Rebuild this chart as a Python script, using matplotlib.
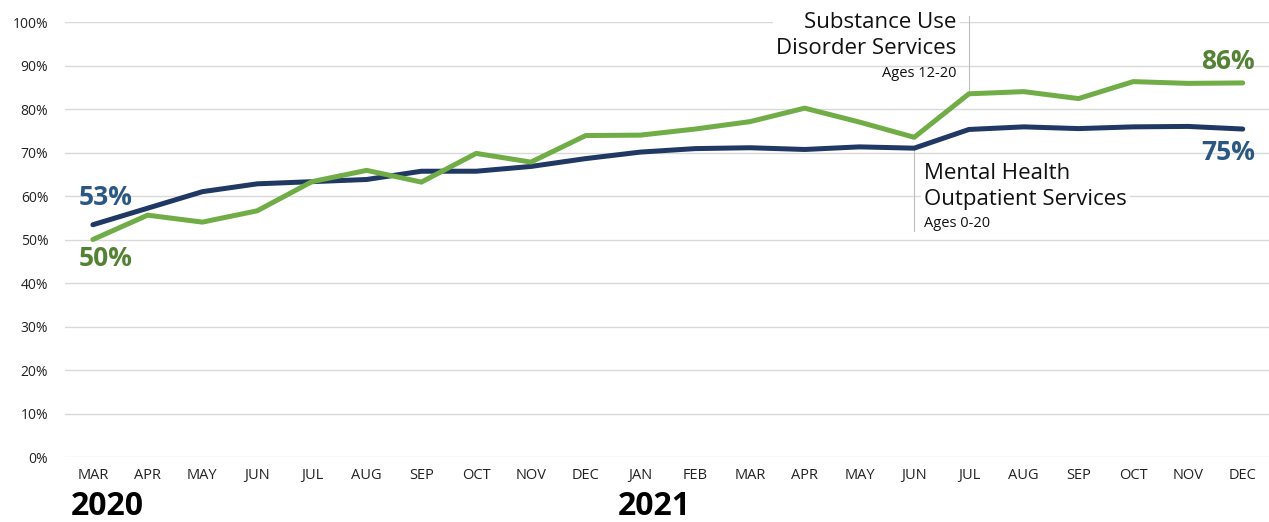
import matplotlib.pyplot as plt
from matplotlib.ticker import FuncFormatter

# Fonts - closest installed match to the original
plt.rcParams['font.family'] = ['Open Sans', 'DejaVu Sans']

# Data
months = ["MAR", "APR", "MAY", "JUN", "JUL", "AUG", "SEP", "OCT", "NOV", "DEC",
          "JAN", "FEB", "MAR", "APR", "MAY", "JUN", "JUL", "AUG", "SEP", "OCT", "NOV", "DEC"]
years = ["2020", "2021"]
year_start_idx = [0, 10]
mental_health = [53.4, 57.2, 61.0, 62.8, 63.3, 63.8, 65.7, 65.7, 66.8, 68.6,
                 70.1, 70.9, 71.1, 70.7, 71.3, 71.0, 75.3, 75.9, 75.5, 75.9, 76.0, 75.4]
substance_use = [50.0, 55.6, 54.0, 56.6, 63.3, 65.9, 63.2, 69.8, 67.8, 73.9,
                 74.0, 75.4, 77.1, 80.2, 77.0, 73.5, 83.5, 84.0, 82.4, 86.3, 85.9, 86.0]

NAVY = "#1f3864"
NAVY_TXT = "#2b5783"
GREEN = "#70ad47"
GREEN_TXT = "#548235"

fig = plt.figure(figsize=(12.69, 5.22), dpi=100)
ax = fig.add_axes([0.0512, 0.1245, 0.9488, 0.8333])

x = list(range(len(months)))
ax.plot(x, mental_health, color=NAVY, lw=3.6, solid_capstyle="round", zorder=4)
ax.plot(x, substance_use, color=GREEN, lw=3.6, solid_capstyle="round", zorder=4)

ax.set_xlim(-0.51, 21.48)
ax.set_ylim(0, 100)
ax.set_yticks(range(0, 101, 10))
ax.yaxis.set_major_formatter(FuncFormatter(lambda v, p: f"{int(v)}%"))
ax.grid(axis="y", color="#d9d9d9", lw=1, zorder=0)
ax.set_axisbelow(True)
for s in ax.spines.values():
    s.set_visible(False)
ax.tick_params(axis="both", length=0, labelsize=10, colors="#222222")
ax.tick_params(axis="y", pad=12)
ax.set_xticks(x)
ax.set_xticklabels(months, fontsize=10.5)
ax.tick_params(axis="x", pad=8)

# year labels under the months
for yr, i in zip(years, year_start_idx):
    ax.annotate(yr, xy=(i, 0), xycoords=("data", "axes fraction"),
                xytext=(-16, -24), textcoords="offset points",
                ha="left", va="top", fontsize=23, fontweight="bold", color="black",
                annotation_clip=False)

# start / end values
ax.annotate(f"{mental_health[0]:.0f}%", xy=(0, mental_health[0]), xytext=(-10, 10),
            textcoords="offset points", ha="left", va="bottom",
            fontsize=19, fontweight="bold", color=NAVY_TXT)
ax.annotate(f"{substance_use[0]:.0f}%", xy=(0, substance_use[0]), xytext=(-10, -4),
            textcoords="offset points", ha="left", va="top",
            fontsize=19, fontweight="bold", color=GREEN_TXT)
ax.annotate(f"{substance_use[-1]:.0f}%", xy=(21, substance_use[-1]), xytext=(9, 6),
            textcoords="offset points", ha="right", va="bottom",
            fontsize=19, fontweight="bold", color=GREEN_TXT)
ax.annotate(f"{mental_health[-1]:.0f}%", xy=(21, mental_health[-1]), xytext=(9, -7),
            textcoords="offset points", ha="right", va="top",
            fontsize=19, fontweight="bold", color=NAVY_TXT)

# series name callouts with leader lines
i_su = 16
ax.plot([i_su, i_su], [substance_use[i_su], 101.5], color="#bfbfbf", lw=0.8,
        zorder=3, clip_on=False)
ax.annotate("Substance Use\nDisorder Services", xy=(i_su, 102.3), xytext=(-9, 0),
            textcoords="offset points", ha="right", va="top", fontsize=16,
            linespacing=1.3, color="#111111", zorder=2, annotation_clip=False,
            bbox=dict(boxstyle="square,pad=0.15", fc="white", ec="none"))
ax.annotate("Ages 12-20", xy=(i_su, 89.8), xytext=(-9, 0),
            textcoords="offset points", ha="right", va="top", fontsize=10.5,
            color="#111111", zorder=2)

i_mh = 15
ax.plot([i_mh, i_mh], [mental_health[i_mh], 52], color="#bfbfbf", lw=0.8, zorder=3)
ax.annotate("Mental Health\nOutpatient Services", xy=(i_mh, 67.6), xytext=(7, 0),
            textcoords="offset points", ha="left", va="top", fontsize=16,
            linespacing=1.3, color="#111111", zorder=2,
            bbox=dict(boxstyle="square,pad=0.15", fc="white", ec="none"))
ax.annotate("Ages 0-20", xy=(i_mh, 55.3), xytext=(7, 0),
            textcoords="offset points", ha="left", va="top", fontsize=10.5,
            color="#111111", zorder=2)

fig.savefig("out.png", dpi=100)
